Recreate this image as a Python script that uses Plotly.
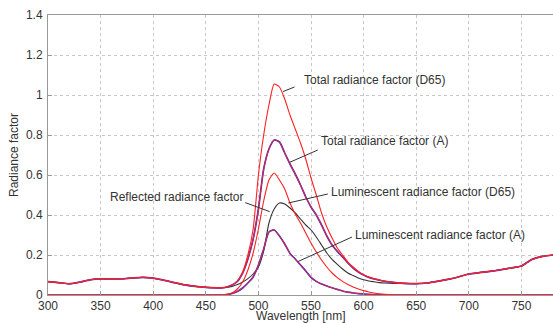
import plotly.graph_objects as go

wavelength = [300, 310, 320, 330, 340, 350, 360, 370, 380, 390, 400, 410, 420, 430, 440, 450, 460,
              465, 470, 475, 480, 485, 490, 495, 500, 505, 510, 515, 520, 525, 530, 535, 540, 545,
              550, 555, 560, 565, 570, 575, 580, 585, 590, 595, 600, 605, 610, 615, 620,
              630, 640, 650, 660, 670, 680, 690, 700, 710, 720, 730, 740, 750, 760, 770, 780]

reflected = [0.067, 0.062, 0.056, 0.064, 0.076, 0.081, 0.080, 0.081, 0.085, 0.088, 0.084, 0.074, 0.062, 0.051, 0.043, 0.038, 0.036,
             0.036, 0.038, 0.043, 0.052, 0.065, 0.082, 0.105, 0.14, 0.22, 0.36, 0.43, 0.46, 0.455, 0.435, 0.41, 0.38, 0.35,
             0.325, 0.29, 0.25, 0.21, 0.178, 0.153, 0.13, 0.11, 0.097, 0.085, 0.076, 0.07, 0.066, 0.062, 0.06,
             0.058, 0.057, 0.057, 0.06, 0.068, 0.078, 0.09, 0.105, 0.112, 0.118, 0.126, 0.135, 0.145, 0.178, 0.193, 0.2]

lum_A = [0, 0, 0, 0, 0, 0, 0, 0, 0, 0, 0, 0, 0, 0, 0, 0, 0,
         0, 0.002, 0.008, 0.018, 0.035, 0.06, 0.09, 0.15, 0.23, 0.315, 0.325, 0.295, 0.255, 0.208, 0.18, 0.15, 0.12,
         0.088, 0.068, 0.055, 0.045, 0.036, 0.028, 0.02, 0.014, 0.01, 0.007, 0.005, 0.003, 0.002, 0.001, 0,
         0, 0, 0, 0, 0, 0, 0, 0, 0, 0, 0, 0, 0, 0, 0, 0]

lum_D65 = [0, 0, 0, 0, 0, 0, 0, 0, 0, 0, 0, 0, 0, 0, 0, 0, 0,
           0, 0.003, 0.01, 0.03, 0.065, 0.125, 0.21, 0.33, 0.47, 0.575, 0.61, 0.575, 0.53, 0.46, 0.405, 0.36, 0.31,
           0.26, 0.215, 0.175, 0.14, 0.11, 0.087, 0.068, 0.052, 0.04, 0.03, 0.022, 0.015, 0.01, 0.006, 0.003,
           0, 0, 0, 0, 0, 0, 0, 0, 0, 0, 0, 0, 0, 0, 0, 0]

total_A = [0.067, 0.062, 0.056, 0.064, 0.076, 0.081, 0.080, 0.081, 0.085, 0.088, 0.084, 0.074, 0.062, 0.051, 0.043, 0.038, 0.036,
           0.036, 0.04, 0.05, 0.068, 0.11, 0.18, 0.28, 0.43, 0.63, 0.73, 0.775, 0.765, 0.71, 0.655, 0.605, 0.55, 0.49,
           0.44, 0.4, 0.35, 0.295, 0.25, 0.218, 0.19, 0.16, 0.135, 0.115, 0.1, 0.088, 0.08, 0.074, 0.068,
           0.062, 0.058, 0.057, 0.06, 0.068, 0.078, 0.09, 0.105, 0.112, 0.118, 0.126, 0.135, 0.145, 0.178, 0.193, 0.2]

total_D65 = [0.067, 0.062, 0.056, 0.064, 0.076, 0.081, 0.080, 0.081, 0.085, 0.088, 0.084, 0.074, 0.062, 0.051, 0.043, 0.038, 0.036,
             0.036, 0.04, 0.05, 0.07, 0.115, 0.2, 0.33, 0.6, 0.8, 0.95, 1.055, 1.04, 0.98, 0.9, 0.83, 0.76, 0.68,
             0.585, 0.5, 0.41, 0.34, 0.285, 0.235, 0.2, 0.165, 0.14, 0.118, 0.1, 0.09, 0.082, 0.075, 0.07,
             0.062, 0.058, 0.057, 0.06, 0.068, 0.078, 0.09, 0.105, 0.112, 0.118, 0.126, 0.135, 0.145, 0.178, 0.193, 0.2]

x_ticks = [300, 350, 400, 450, 500, 550, 600, 650, 700, 750]
y_ticks = [0, 0.2, 0.4, 0.6, 0.8, 1.0, 1.2, 1.4]
y_tick_text = ["0", "0.2", "0.4", "0.6", "0.8", "1", "1.2", "1.4"]

RED = "#ff2020"
BLUE = "#3030e0"
BLACK = "#333333"

fig = go.Figure()

def add(y, color, width):
    fig.add_trace(go.Scatter(x=wavelength, y=y, mode="lines", line=dict(color=color, width=width, shape="spline", smoothing=0.6),
                             showlegend=False, hoverinfo="skip"))

add(reflected, BLACK, 1.1)
add(lum_A, BLUE, 1.7)
add(lum_A, RED, 1.0)
add(total_A, BLUE, 1.7)
add(total_A, RED, 1.0)
add(lum_D65, RED, 1.1)
add(total_D65, RED, 1.1)

labels = [
    ("Total radiance factor (D65)", 541.5, 1.075, "left", (523.3, 1.017), (534.3, 1.04)),
    ("Total radiance factor (A)", 558.0, 0.772, "left", (529.6, 0.663), (556.4, 0.725)),
    ("Luminescent radiance factor (D65)", 567.4, 0.513, "left", (528.4, 0.46), (566.0, 0.505)),
    ("Luminescent radiance factor (A)", 589.7, 0.30, "left", (537.5, 0.167), (589.0, 0.29)),
    ("Reflected radiance factor", 486.9, 0.49, "right", (510.6, 0.417), (487.5, 0.462)),
]
for text, tx, ty, anchor, p0, p1 in labels:
    fig.add_annotation(x=tx, y=ty, text=text, showarrow=False, xanchor=anchor, yanchor="middle",
                       font=dict(family="Liberation Sans, Arial, sans-serif", size=12, color="#333333"))
    fig.add_shape(type="line", x0=p0[0], y0=p0[1], x1=p1[0], y1=p1[1], xref="x", yref="y",
                  line=dict(color="#333333", width=1))

axis_font = dict(family="Liberation Sans, Arial, sans-serif", size=12, color="#333333")

# x-axis title placed as paper annotation just below the tick labels
fig.add_annotation(x=0.5, y=-0.1, xref="paper", yref="paper", text="Wavelength [nm]", showarrow=False,
                   xanchor="center", yanchor="bottom", borderpad=0, yshift=-1, font=axis_font)

fig.update_layout(
    width=553, height=323,
    margin=dict(l=48, r=0, t=15, b=28),
    paper_bgcolor="white", plot_bgcolor="white",
    font=axis_font,
    xaxis=dict(range=[300, 780], tickvals=x_ticks, showgrid=True, gridcolor="#c8c8c8", griddash="dot", gridwidth=1,
               showline=True, linecolor="#999999", linewidth=1, mirror=True, ticks="inside", ticklen=4,
               tickcolor="#999999", zeroline=False, tickfont=axis_font, ticklabelstandoff=0, automargin=False),
    yaxis=dict(range=[0, 1.4], tickvals=y_ticks, ticktext=y_tick_text, showgrid=True, gridcolor="#c8c8c8",
               griddash="dot", gridwidth=1, showline=True, linecolor="#999999", linewidth=1, ticks="inside",
               ticklen=4, tickcolor="#999999", zeroline=False, tickfont=axis_font, ticklabelstandoff=2,
               automargin=False, title=dict(text="Radiance factor", font=axis_font, standoff=4)),
)

fig.write_html("out.html")
